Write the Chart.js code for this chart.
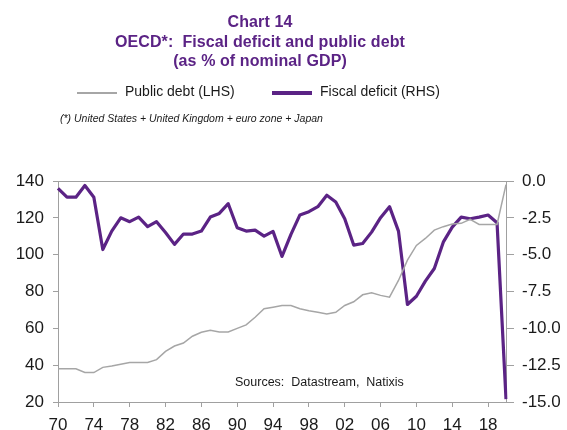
<!DOCTYPE html>
<html>
<head>
<meta charset="utf-8">
<script src="https://cdn.jsdelivr.net/npm/chart.js@4/dist/chart.umd.min.js"></script>
<style>
  html, body { margin: 0; padding: 0; background: #fff; }
  #wrap { position: relative; width: 567px; height: 430px; overflow: hidden; font-family: "Liberation Sans", Arial, sans-serif; }
  #c { position: absolute; left: 0; top: 0; }
  .title { position: absolute; left: 60px; width: 400px; text-align: center; color: #5b2385; font-weight: bold; font-size: 16px; line-height: 19.5px; top: 12px; letter-spacing: 0.1px; }
  .leg { position: absolute; top: 83px; font-size: 14px; color: #1a1a1a; white-space: nowrap; }
  .leg .sw { position: absolute; top: 9px; width: 40px; }
  .note { position: absolute; left: 60px; top: 112px; font-size: 10.5px; font-style: italic; color: #1a1a1a; white-space: nowrap; }
</style>
</head>
<body>
<div id="wrap">
  <canvas id="c" width="567" height="430"></canvas>
  <div class="title">Chart 14<br>OECD*:&nbsp; Fiscal deficit and public debt<br>(as % of nominal GDP)</div>
  <div class="leg" style="left:77px"><span class="sw" style="left:0;border-top:2px solid #a6a6a6"></span><span style="margin-left:48px">Public debt (LHS)</span></div>
  <div class="leg" style="left:272px"><span class="sw" style="left:0;top:8px;border-top:4px solid #5b2385"></span><span style="margin-left:48px">Fiscal deficit (RHS)</span></div>
  <div class="note">(*) United States + United Kingdom + euro zone + Japan</div>
</div>
<script>
// Years 1970 to 2020
const years = [];
for (let y = 1970; y <= 2020; y++) years.push(y);

// Public debt, % of GDP (left axis)
const publicDebt = [
  38, 38, 38, 36, 36, 38.8, 39.5, 40.5, 41.5, 41.5,
  41.5, 43, 47.5, 50.4, 52, 55.7, 57.9, 59, 58, 58,
  60, 61.9, 66, 70.6, 71.5, 72.4, 72.4, 70.6, 69.5, 68.7,
  67.8, 68.7, 72.4, 74.4, 78.2, 79.3, 77.9, 76.9, 86, 97,
  105, 108.8, 113.3, 115.2, 116.6, 117, 119.2, 116.4, 116.4, 116.4,
  138
];

// Fiscal balance, % of GDP (right axis)
const fiscalDeficit = [
  -0.5, -1.1, -1.1, -0.3, -1.1, -4.65, -3.4, -2.5, -2.76, -2.45,
  -3.1, -2.76, -3.5, -4.3, -3.6, -3.6, -3.4, -2.45, -2.2, -1.54,
  -3.17, -3.4, -3.33, -3.74, -3.42, -5.12, -3.62, -2.3, -2.08, -1.74,
  -0.97, -1.43, -2.56, -4.35, -4.24, -3.47, -2.49, -1.74, -3.4, -8.38,
  -7.82, -6.8, -5.94, -4.15, -3.13, -2.45, -2.56, -2.45, -2.31, -2.83,
  -14.8
];

const leftTicks = [20, 40, 60, 80, 100, 120, 140];
const rightTicks = [-15, -12.5, -10, -7.5, -5, -2.5, 0];

const axisGray = '#a0a0a0';
const tickFont = { family: '"Liberation Sans", Arial, sans-serif', size: 17 };

const frameTop = {
  id: 'frameTop',
  afterDatasetsDraw(chart) {
    const { ctx, chartArea } = chart;
    ctx.save();
    ctx.strokeStyle = axisGray;
    ctx.lineWidth = 1;
    ctx.beginPath();
    ctx.moveTo(chartArea.left, chartArea.top + 0.5);
    ctx.lineTo(chartArea.right, chartArea.top + 0.5);
    ctx.stroke();
    ctx.fillStyle = '#1a1a1a';
    ctx.font = '12.5px "Liberation Sans", Arial, sans-serif';
    ctx.textBaseline = 'middle';
    ctx.fillText('Sources:  Datastream,  Natixis', chartArea.left + 177, 383);
    ctx.restore();
  }
};

new Chart(document.getElementById('c'), {
  type: 'line',
  data: {
    labels: years,
    datasets: [
      {
        label: 'Public debt (LHS)',
        data: publicDebt,
        yAxisID: 'yL',
        borderColor: '#a6a6a6',
        borderWidth: 1.5,
        pointRadius: 0,
        tension: 0
      },
      {
        label: 'Fiscal deficit (RHS)',
        data: fiscalDeficit,
        yAxisID: 'yR',
        borderColor: '#5b2385',
        borderWidth: 3.2,
        pointRadius: 0,
        tension: 0,
        borderJoinStyle: 'round'
      }
    ]
  },
  options: {
    responsive: false,
    animation: false,
    events: [],
    layout: { padding: { top: 181, bottom: 0, left: 0, right: 0 } },
    plugins: { legend: { display: false }, title: { display: false }, tooltip: { enabled: false } },
    scales: {
      x: {
        type: 'category',
        offset: false,
        grid: { drawOnChartArea: false, drawTicks: true, tickLength: 5, color: axisGray,
          lineWidth: ctx => (ctx.index % 4 === 0 ? 1 : 0) },
        border: { display: true, color: axisGray },
        ticks: {
          autoSkip: false, maxRotation: 0, color: '#1a1a1a', font: tickFont, padding: 8,
          callback: (v, i) => (i % 4 === 0 ? String(years[i]).slice(2) : '')
        },
        afterFit: s => { s.height = 28; }
      },
      yL: {
        position: 'left',
        min: 20, max: 140,
        afterBuildTicks: s => { s.ticks = leftTicks.map(v => ({ value: v })); },
        grid: { drawOnChartArea: false, drawTicks: true, tickLength: 5, color: axisGray },
        border: { display: true, color: axisGray },
        ticks: { color: '#1a1a1a', font: tickFont, padding: 9 },
        afterFit: s => { s.width = 58; }
      },
      yR: {
        position: 'right',
        min: -15, max: 0,
        afterBuildTicks: s => { s.ticks = rightTicks.map(v => ({ value: v })); },
        grid: { drawOnChartArea: false, drawTicks: true, tickLength: 8, color: axisGray },
        border: { display: true, color: axisGray },
        ticks: { color: '#1a1a1a', font: tickFont, padding: 8, callback: v => Number(v).toFixed(1) },
        afterFit: s => { s.width = 61; }
      }
    }
  },
  plugins: [frameTop]
});
</script>
</body>
</html>
